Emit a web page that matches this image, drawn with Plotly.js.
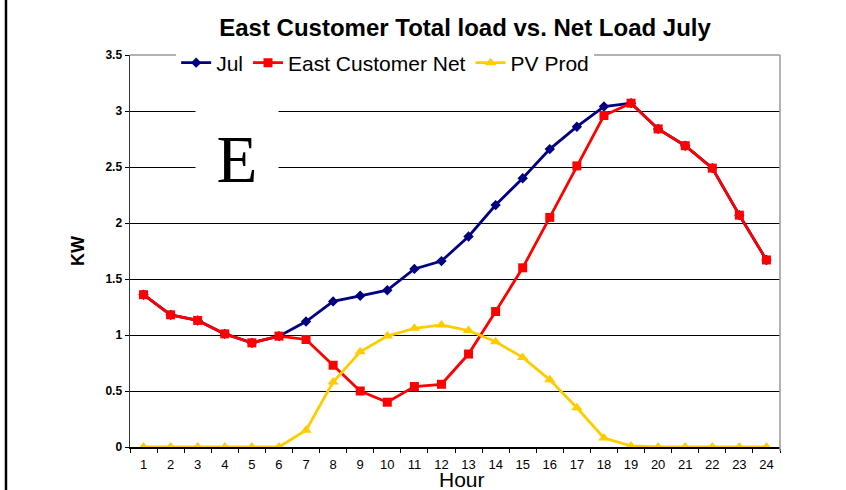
<!DOCTYPE html>
<html>
<head>
<meta charset="utf-8">
<script src="https://cdn.plot.ly/plotly-3.0.1.min.js"></script>
<style>html,body{margin:0;padding:0;background:#fff;}#chart{width:846px;height:490px;}</style>
</head>
<body>
<div id="chart"></div>
<script>
const hours = ["1","2","3","4","5","6","7","8","9","10","11","12","13","14","15","16","17","18","19","20","21","22","23","24"];
const julLoad = [1.36,1.18,1.13,1.01,0.93,0.99,1.12,1.30,1.35,1.40,1.59,1.66,1.88,2.16,2.40,2.66,2.86,3.04,3.07,2.84,2.69,2.49,2.07,1.67];
const eastNet = [1.36,1.18,1.13,1.01,0.93,0.99,0.96,0.73,0.50,0.40,0.54,0.56,0.83,1.21,1.60,2.05,2.51,2.96,3.07,2.84,2.69,2.49,2.07,1.67];
const pvProd = [0,0,0,0,0,0,0.15,0.58,0.85,0.99,1.06,1.09,1.04,0.94,0.80,0.60,0.35,0.08,0.01,0,0,0,0,0];
const seriesNames = ["Jul","East Customer Net","PV Prod"];

const traces = [
  {x: hours, y: julLoad, name: seriesNames[0], type: "scatter", mode: "lines+markers",
   line: {color: "#000080", width: 2.8}, marker: {symbol: "diamond", size: 8, color: "#000080"}},
  {x: hours, y: eastNet, name: seriesNames[1], type: "scatter", mode: "lines+markers",
   line: {color: "#FF0000", width: 2.8}, marker: {symbol: "square", size: 9, color: "#FF0000"}},
  {x: hours, y: pvProd, name: seriesNames[2], type: "scatter", mode: "lines+markers",
   line: {color: "#FFCC00", width: 2.8}, marker: {symbol: "triangle-up", size: 10, color: "#FFCC00"}}
];

const layout = {
  width: 846, height: 490,
  margin: {l: 130, r: 66, t: 55, b: 43},
  paper_bgcolor: "#fff", plot_bgcolor: "#fff",
  font: {family: "Arial, Liberation Sans, sans-serif", color: "#000"},
  title: {text: "<b>East Customer Total load vs. Net Load July</b>", font: {size: 24, family: "Arial, Liberation Sans, sans-serif"},
          x: 0.5497, xref: "container", y: 0.943, yanchor: "middle"},
  showlegend: true,
  legend: {orientation: "h", x: 0.071, xanchor: "left", y: 0.9796, yanchor: "middle",
           bgcolor: "#fff", font: {size: 21}, traceorder: "normal", itemwidth: 30,
           tracegroupgap: 0},
  xaxis: {type: "category", tickson: "boundaries", ticks: "outside", ticklen: 4, tickcolor: "#000",
          showline: true, linecolor: "#000", linewidth: 1.5, showgrid: false, zeroline: false,
          tickfont: {size: 13}, ticklabelstandoff: 5, fixedrange: true, range: [-0.5, 23.5]},
  yaxis: {range: [0, 3.5], dtick: 0.5, ticks: "outside", ticklen: 4, tickcolor: "#000",
          showline: true, linecolor: "#333", linewidth: 1.5, showgrid: true, gridcolor: "#000", gridwidth: 1,
          zeroline: false, tickfont: {size: 12, weight: "bold", family: "Arial, Liberation Sans, sans-serif"},
          title: {text: "<b>KW</b>", font: {size: 18}, standoff: 16}, fixedrange: true},
  shapes: [
    {type: "line", xref: "paper", yref: "paper", x0: 0, x1: 1, y0: 1, y1: 1, line: {color: "#999", width: 1.5}, layer: "above"},
    {type: "line", xref: "paper", yref: "paper", x0: 1, x1: 1, y0: -0.01, y1: 1, line: {color: "#999", width: 1.5}, layer: "above"},
    {type: "line", xref: "paper", yref: "paper", x0: -0.1908, x1: -0.1908, y0: -0.12, y1: 1.15, line: {color: "#000", width: 2.5}, layer: "above"}
  ],
  annotations: [
    {text: "E", xref: "paper", yref: "paper", x: 0.1646, y: 0.7347, xanchor: "center", yanchor: "middle",
     showarrow: false, bgcolor: "#fff", width: 80, height: 96,
     font: {family: "Times New Roman, Liberation Serif, serif", size: 67, color: "#000"}},
    {text: "Hour", xref: "paper", yref: "paper", x: 0.51, y: -0.082, xanchor: "center", yanchor: "middle",
     showarrow: false, font: {size: 21, color: "#000"}}
  ]
};

Plotly.newPlot("chart", traces, layout, {displayModeBar: false, staticPlot: true});
</script>
</body>
</html>
